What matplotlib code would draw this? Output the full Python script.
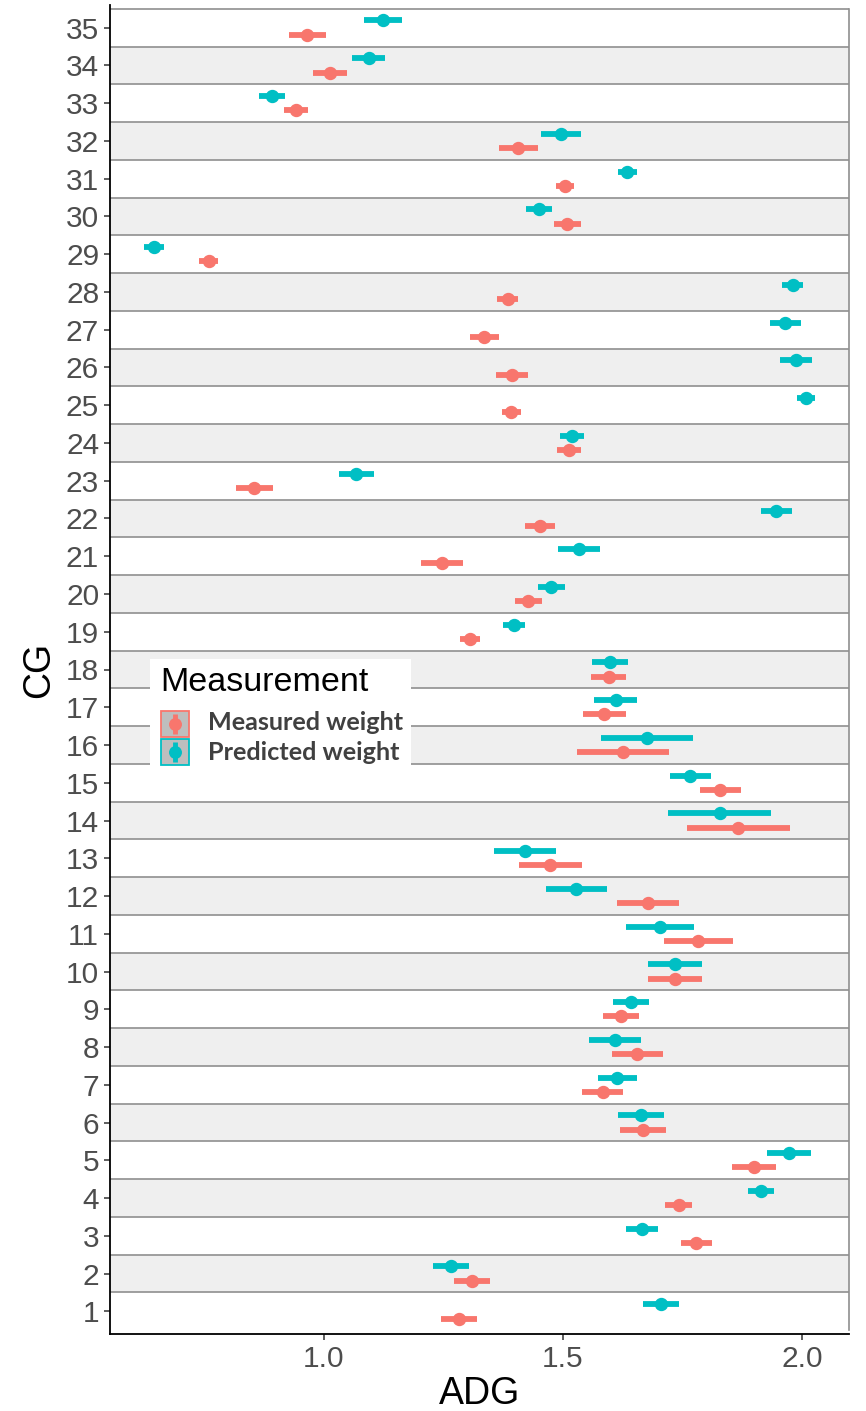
import numpy as np
import matplotlib
matplotlib.use("Agg")
import matplotlib.pyplot as plt
from matplotlib.patches import Rectangle
from matplotlib.lines import Line2D

# contemporary group ids
cg = list(range(1, 36))

# measured weight: mean ADG and half-width of the interval
measured = [1.283, 1.310, 1.779, 1.742, 1.900, 1.668, 1.583, 1.656, 1.621, 1.734,
            1.783, 1.678, 1.474, 1.867, 1.829, 1.625, 1.587, 1.596, 1.306, 1.428,
            1.248, 1.452, 0.855, 1.513, 1.392, 1.394, 1.336, 1.385, 0.760, 1.509,
            1.505, 1.407, 0.942, 1.013, 0.966]
measured_err = [0.038, 0.038, 0.033, 0.028, 0.046, 0.048, 0.042, 0.054, 0.038, 0.056,
                0.072, 0.064, 0.065, 0.108, 0.043, 0.096, 0.044, 0.037, 0.021, 0.028,
                0.044, 0.032, 0.038, 0.025, 0.020, 0.033, 0.030, 0.022, 0.020, 0.028,
                0.019, 0.041, 0.026, 0.035, 0.038]

# predicted weight
predicted = [1.705, 1.266, 1.665, 1.914, 1.973, 1.663, 1.614, 1.609, 1.642, 1.734,
             1.703, 1.528, 1.421, 1.828, 1.766, 1.676, 1.611, 1.598, 1.397, 1.476,
             1.533, 1.946, 1.068, 1.520, 2.009, 1.987, 1.965, 1.981, 0.645, 1.450,
             1.635, 1.496, 0.891, 1.094, 1.124]
predicted_err = [0.038, 0.038, 0.033, 0.028, 0.046, 0.048, 0.041, 0.054, 0.038, 0.056,
                 0.072, 0.064, 0.064, 0.108, 0.043, 0.097, 0.045, 0.038, 0.023, 0.028,
                 0.044, 0.032, 0.037, 0.025, 0.019, 0.033, 0.032, 0.022, 0.021, 0.028,
                 0.019, 0.042, 0.027, 0.034, 0.039]

labels = ["Measured weight", "Predicted weight"]
colors = ["#F8766D", "#00BFC4"]

W, H = 866, 1411
fig = plt.figure(figsize=(W / 100, H / 100), dpi=100)
ax = fig.add_axes([110.3 / W, 77 / H, (849 - 110.3) / W, (1406 - 77) / H])

y = np.array(cg, dtype=float)
dodge = 0.19

# alternating background bands
for c in cg:
    if c % 2 == 0:
        ax.axhspan(c - 0.5, c + 0.5, color="#EFEFEF", lw=0, zorder=0)
for c in cg:
    ax.axhline(c + 0.5, color="#8F8F8F", lw=1.2, zorder=1)

series = [(measured, measured_err, -dodge), (predicted, predicted_err, dodge)]
for (vals, errs, off), col in zip(series, colors):
    eb = ax.errorbar(vals, y + off, xerr=errs, fmt="o", color=col, ms=8.6,
                     elinewidth=4.2, capsize=0, zorder=3)
    eb[2][0].set_capstyle("butt")

lo = min(np.min(np.array(measured) - measured_err), np.min(np.array(predicted) - predicted_err))
hi = max(np.max(np.array(measured) + measured_err), np.max(np.array(predicted) + predicted_err))
pad = (hi - lo) * 0.05
ax.set_xlim(lo - pad, hi + pad)
ax.set_ylim(0.4, 35.6)

ax.plot([1, 1], [0.5, 35.5], transform=ax.get_yaxis_transform(), color="#8F8F8F", lw=1.2,
        zorder=1, clip_on=False)

ax.set_yticks(cg)
ax.set_yticklabels([str(c) for c in cg])
ax.set_xticks([1.0, 1.5, 2.0])
ax.set_xticklabels(["1.0", "1.5", "2.0"])

for s in ["top", "right"]:
    ax.spines[s].set_visible(False)
for s in ["left", "bottom"]:
    ax.spines[s].set_linewidth(1.3)
    ax.spines[s].set_color("black")

ax.tick_params(axis="both", length=4, width=1.1, color="#333333", labelcolor="#4D4D4D",
               labelsize=21.5, pad=4)
for t in ax.get_xticklabels() + ax.get_yticklabels():
    t.set_fontfamily("Liberation Sans")

ax.set_xlabel("ADG", fontsize=27, family="Liberation Sans", color="black", labelpad=2)
ax.set_ylabel("CG", fontsize=27, family="Liberation Sans", color="black", labelpad=6)

# legend drawn in figure pixel space
def fx(px):
    return px / W

def fy(py):
    return 1 - py / H

fig.patches.append(Rectangle((fx(150), fy(766)), fx(411) - fx(150), fy(659) - fy(766),
                             transform=fig.transFigure, facecolor="white", edgecolor="none",
                             zorder=5))
fig.text(fx(160), fy(691), "Measurement", fontsize=24.5, family="Liberation Sans",
         color="black", va="baseline", ha="left", zorder=6)
key_tops = [711, 739]
text_mid = [722, 753]
for lab, col, top, ty in zip(labels, colors, key_tops, text_mid):
    fig.patches.append(Rectangle((fx(161), fy(top + 26)), fx(189) - fx(161), fy(top) - fy(top + 26),
                                 transform=fig.transFigure, facecolor="#BEBEBE",
                                 edgecolor=col, lw=1.3, zorder=6))
    cy = top + 13
    fig.lines.append(Line2D([fx(175), fx(175)], [fy(top + 3), fy(top + 23)],
                            transform=fig.transFigure, color=col, lw=3.5, zorder=7,
                            solid_capstyle="butt"))
    fig.lines.append(Line2D([fx(175)], [fy(cy)], transform=fig.transFigure, marker="o",
                            ms=8.3, color=col, zorder=7))
    fig.text(fx(208), fy(ty), lab, fontsize=18.2, family="Lato", weight="bold",
             color="#404040", va="center", ha="left", zorder=7)

fig.savefig("out.png", dpi=100)
